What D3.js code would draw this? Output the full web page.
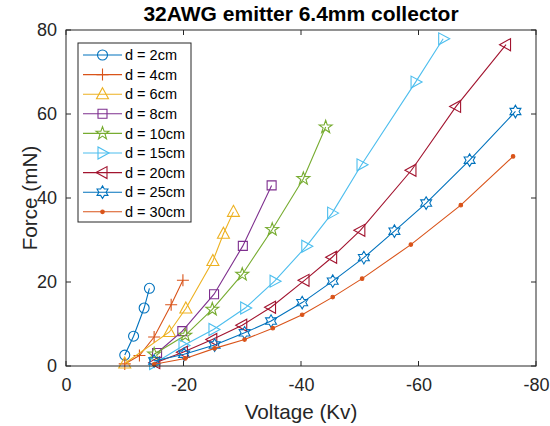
<!DOCTYPE html>
<html>
<head>
<meta charset="utf-8">
<script src="https://cdn.jsdelivr.net/npm/d3@7"></script>
<style>
  body { margin: 0; background: #fff; }
  svg { display: block; }
</style>
</head>
<body>
<svg id="chart" width="550" height="426"></svg>
<script>
// series labels, styles
var seriesNames = ['d = 2cm', 'd = 4cm', 'd = 6cm', 'd = 8cm', 'd = 10cm', 'd = 15cm', 'd = 20cm', 'd = 25cm', 'd = 30cm'];
var seriesColors = ['#0072BD', '#D95319', '#EDB120', '#7E2F8E', '#77AC30', '#4DBEEE', '#A2142F', '#0072BD', '#D95319'];
var seriesMarkers = ['o', '+', '^', 's', 'p', '>', '<', 'h', '.'];

// voltage (kV) / force (mN)
var volt2 = [-10, -11.5, -13.3, -14.2];
var force2 = [2.6, 7.1, 13.8, 18.5];
var volt4 = [-10, -12.5, -15, -17.9, -19.9];
var force4 = [0.5, 2.5, 6.9, 14.6, 20.4];
var volt6 = [-10, -17.6, -20.4, -25, -26.8, -28.5];
var force6 = [0.6, 8.1, 13.7, 25, 31.5, 36.7];
var volt8 = [-15.5, -19.8, -25.2, -30.1, -35];
var force8 = [3.1, 8.3, 17.1, 28.6, 43];
var volt10 = [-15, -20.3, -24.9, -30, -35.1, -40.4, -44.2];
var force10 = [2.8, 7.3, 13.5, 21.8, 32.5, 44.6, 56.9];
var volt15 = [-15, -20, -25.1, -30.5, -35.5, -40.9, -45.3, -50.3, -59.5, -64.2];
var force15 = [0.6, 4.9, 8.7, 13.8, 20.2, 28.5, 36.4, 47.9, 67.6, 77.9];
var volt20 = [-15.2, -19.9, -24.9, -30, -34.9, -40.6, -45.3, -50.1, -58.8, -66.4, -74.9];
var force20 = [0.8, 3.3, 6.3, 9.7, 14.0, 20.4, 25.9, 32.3, 46.6, 61.8, 76.5];
var volt25 = [-15, -20.1, -25.3, -30.4, -34.9, -40.2, -45.4, -50.7, -55.9, -61.3, -68.7, -76.5];
var force25 = [1.2, 2.8, 5.0, 7.9, 10.7, 15.1, 20.2, 25.8, 32.1, 38.8, 49.0, 60.6];
var volt30 = [-15, -20.3, -25.3, -30.4, -35.2, -40.2, -45.4, -50.4, -58.7, -67.2, -76.1];
var force30 = [0.4, 1.8, 4.2, 6.3, 9.0, 12.2, 16.4, 20.8, 28.9, 38.3, 49.9];

var xTicks = [0, -20, -40, -60, -80];
var yTicks = [0, 20, 40, 60, 80];

var volts = [volt2, volt4, volt6, volt8, volt10, volt15, volt20, volt25, volt30];
var forces = [force2, force4, force6, force8, force10, force15, force20, force25, force30];

var axisColor = '#262626';
var font = 'Liberation Sans, Arial, Helvetica, sans-serif';

var svg = d3.select('#chart');
var pLeft = 66, pRight = 536, pTop = 30, pBottom = 366;

var x = d3.scaleLinear().domain([0, -80]).range([pLeft, pRight]);
var y = d3.scaleLinear().domain([0, 80]).range([pBottom, pTop]);

// marker shapes, centered on 0,0
function polygon(pts) {
    return 'M' + pts.map(function (p) { return p[0].toFixed(2) + ',' + p[1].toFixed(2); }).join('L') + 'Z';
}
function star(n, ro, ri, rot) {
    var pts = [];
    for (var i = 0; i < 2 * n; i++) {
        var a = rot + i * Math.PI / n;
        var r = i % 2 === 0 ? ro : ri;
        pts.push([r * Math.sin(a), -r * Math.cos(a)]);
    }
    return polygon(pts);
}
function markerPath(m) {
    switch (m) {
        case 'o': return 'M5,0A5,5 0 1,1 -5,0A5,5 0 1,1 5,0Z';
        case '+': return 'M-6,0H6M0,-6V6';
        case '^': return polygon([[0, -6.5], [6, 4.5], [-6, 4.5]]);
        case 's': return polygon([[-4.5, -4.5], [4.5, -4.5], [4.5, 4.5], [-4.5, 4.5]]);
        case 'p': return star(5, 6.8, 2.7, 0);
        case '>': return polygon([[6.5, 0], [-4.5, -6], [-4.5, 6]]);
        case '<': return polygon([[-6.5, 0], [4.5, -6], [4.5, 6]]);
        case 'h': return star(6, 6.3, 3.64, 0);
        case '.': return 'M1.8,0A1.8,1.8 0 1,1 -1.8,0A1.8,1.8 0 1,1 1.8,0Z';
    }
}

// frame background
svg.append('rect')
    .attr('x', pLeft).attr('y', pTop)
    .attr('width', pRight - pLeft).attr('height', pBottom - pTop)
    .attr('fill', '#fff');

var line = d3.line()
    .x(function (d) { return x(d[0]); })
    .y(function (d) { return y(d[1]); });

var plot = svg.append('g');
volts.forEach(function (vs, s) {
    var pts = vs.map(function (v, i) { return [v, forces[s][i]]; });
    var g = plot.append('g');
    g.append('path')
        .attr('d', line(pts))
        .attr('fill', 'none')
        .attr('stroke', seriesColors[s])
        .attr('stroke-width', 1.1);
    g.selectAll('path.mk')
        .data(pts)
        .enter().append('path')
        .attr('class', 'mk')
        .attr('transform', function (d) { return 'translate(' + x(d[0]) + ',' + y(d[1]) + ')'; })
        .attr('d', markerPath(seriesMarkers[s]))
        .attr('fill', seriesMarkers[s] === '.' ? seriesColors[s] : 'none')
        .attr('stroke', seriesColors[s])
        .attr('stroke-width', 1.1);
});

// axes: ticks point inwards, box on
var tickLen = 5;
var xAxis = d3.axisBottom(x).tickValues(xTicks).tickSize(0).tickPadding(12)
    .tickFormat(function (d) { return String(d); });
var yAxis = d3.axisLeft(y).tickValues(yTicks).tickSize(0).tickPadding(9)
    .tickFormat(function (d) { return String(d); });

var gx = svg.append('g').attr('transform', 'translate(0,' + pBottom + ')').call(xAxis);
var gy = svg.append('g').attr('transform', 'translate(' + pLeft + ',0)').call(yAxis);
[gx, gy].forEach(function (g) {
    g.select('.domain').remove();
    g.selectAll('text')
        .attr('fill', axisColor)
        .style('font-family', font)
        .style('font-size', '18px');
});
gx.selectAll('text').attr('dy', '0.71em');

var tk = svg.append('g').attr('stroke', axisColor).attr('stroke-width', 1);
xTicks.forEach(function (t) {
    tk.append('line').attr('x1', x(t)).attr('x2', x(t)).attr('y1', pBottom).attr('y2', pBottom - tickLen);
    tk.append('line').attr('x1', x(t)).attr('x2', x(t)).attr('y1', pTop).attr('y2', pTop + tickLen);
});
yTicks.forEach(function (t) {
    tk.append('line').attr('x1', pLeft).attr('x2', pLeft + tickLen).attr('y1', y(t)).attr('y2', y(t));
    tk.append('line').attr('x1', pRight).attr('x2', pRight - tickLen).attr('y1', y(t)).attr('y2', y(t));
});

svg.append('rect')
    .attr('x', pLeft).attr('y', pTop)
    .attr('width', pRight - pLeft).attr('height', pBottom - pTop)
    .attr('fill', 'none')
    .attr('stroke', axisColor)
    .attr('stroke-width', 1);

// labels and title
svg.append('text')
    .attr('x', (pLeft + pRight) / 2).attr('y', 419)
    .attr('text-anchor', 'middle')
    .attr('fill', axisColor)
    .style('font-family', font).style('font-size', '20.7px')
    .text('Voltage (Kv)');

svg.append('text')
    .attr('transform', 'translate(37,' + ((pTop + pBottom) / 2) + ') rotate(-90)')
    .attr('text-anchor', 'middle')
    .attr('fill', axisColor)
    .style('font-family', font).style('font-size', '20.7px')
    .text('Force (mN)');

svg.append('text')
    .attr('x', (pLeft + pRight) / 2).attr('y', 21)
    .attr('text-anchor', 'middle')
    .attr('fill', '#000')
    .style('font-family', font).style('font-size', '21px').style('font-weight', 'bold')
    .text('32AWG emitter 6.4mm collector');

// legend
var lgX = 78, lgY = 43, lgW = 113, lgH = 179, rowH = 19.6;
var lg = svg.append('g');
lg.append('rect')
    .attr('x', lgX).attr('y', lgY).attr('width', lgW).attr('height', lgH)
    .attr('fill', '#fff').attr('stroke', axisColor).attr('stroke-width', 1);
seriesNames.forEach(function (name, s) {
    var cy = lgY + 12 + s * rowH;
    lg.append('line')
        .attr('x1', lgX + 5).attr('x2', lgX + 44)
        .attr('y1', cy).attr('y2', cy)
        .attr('stroke', seriesColors[s]).attr('stroke-width', 1.1);
    lg.append('path')
        .attr('transform', 'translate(' + (lgX + 24.5) + ',' + cy + ')')
        .attr('d', markerPath(seriesMarkers[s]))
        .attr('fill', seriesMarkers[s] === '.' ? seriesColors[s] : 'none')
        .attr('stroke', seriesColors[s]).attr('stroke-width', 1.1);
    lg.append('text')
        .attr('x', lgX + 47).attr('y', cy)
        .attr('dy', '0.36em')
        .attr('fill', '#000')
        .style('font-family', font).style('font-size', '14.5px')
        .text(name);
});

// the next line of the page, cut off at the bottom edge
svg.append('text')
    .attr('x', 14).attr('y', 438)
    .attr('fill', '#444')
    .style('font-family', 'Liberation Serif, Times New Roman, serif').style('font-size', '17px')
    .text('similar to Fig. 15. The discharge behaviour follows the trend of the lower distances.');
</script>
</body>
</html>
